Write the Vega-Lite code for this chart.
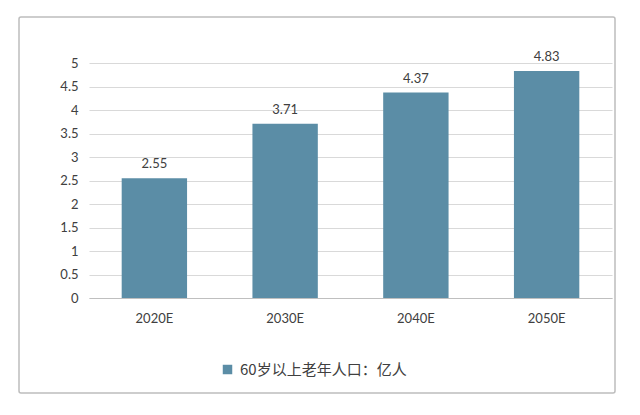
{
  "$schema": "https://vega.github.io/schema/vega-lite/v6.json",
  "autosize": "none",
  "width": 596,
  "height": 376,
  "padding": {"left": 19, "top": 17, "right": 25, "bottom": 22},
  "background": "white",
  "config": {
    "view": {"stroke": "#bdbdbd", "strokeWidth": 1.5, "cornerRadius": 2},
    "font": "Lato, Noto Sans CJK SC",
    "axis": {"labelFont": "Lato, Noto Sans CJK SC", "labelColor": "#404040", "labelFontSize": 13}
  },
  "data": {"values": [
    {"year": "2020E", "value": 2.55, "series": "60岁以上老年人口：亿人"},
    {"year": "2030E", "value": 3.71, "series": "60岁以上老年人口：亿人"},
    {"year": "2040E", "value": 4.37, "series": "60岁以上老年人口：亿人"},
    {"year": "2050E", "value": 4.83, "series": "60岁以上老年人口：亿人"}
  ]},
  "encoding": {
    "x": {
      "field": "year", "type": "nominal",
      "scale": {"range": [70, 593], "paddingInner": 0.5, "paddingOuter": 0.25},
      "axis": {"title": null, "labelAngle": 0, "ticks": false, "domainColor": "#bfbfbf", "domainWidth": 1.2, "offset": -95, "labelPadding": 14, "grid": false}
    },
    "y": {
      "field": "value", "type": "quantitative",
      "scale": {"domain": [0, 5], "range": [281, 46], "nice": false, "zero": true},
      "axis": {"title": null, "values": [0, 0.5, 1, 1.5, 2, 2.5, 3, 3.5, 4, 4.5, 5], "format": "~g", "ticks": false, "domain": false, "grid": true, "gridColor": "#d9d9d9", "gridWidth": 1, "offset": -70, "labelPadding": 11}
    }
  },
  "layer": [
    {
      "mark": {"type": "bar", "color": "#5b8da6"},
      "encoding": {
        "color": {
          "field": "series", "type": "nominal",
          "scale": {"range": ["#5b8da6"]},
          "legend": {"title": null, "orient": "none", "legendX": 201, "legendY": 345, "symbolType": "square", "symbolSize": 90, "labelFontSize": 15, "labelColor": "#404040", "labelFont": "Noto Sans CJK SC", "labelLimit": 400, "symbolStrokeWidth": 0, "labelOffset": 5}
        }
      }
    },
    {
      "mark": {"type": "text", "baseline": "bottom", "dy": -7, "fontSize": 13, "color": "#404040", "font": "Lato"},
      "encoding": {"text": {"field": "value", "type": "quantitative", "format": ".2f"}}
    }
  ]
}
